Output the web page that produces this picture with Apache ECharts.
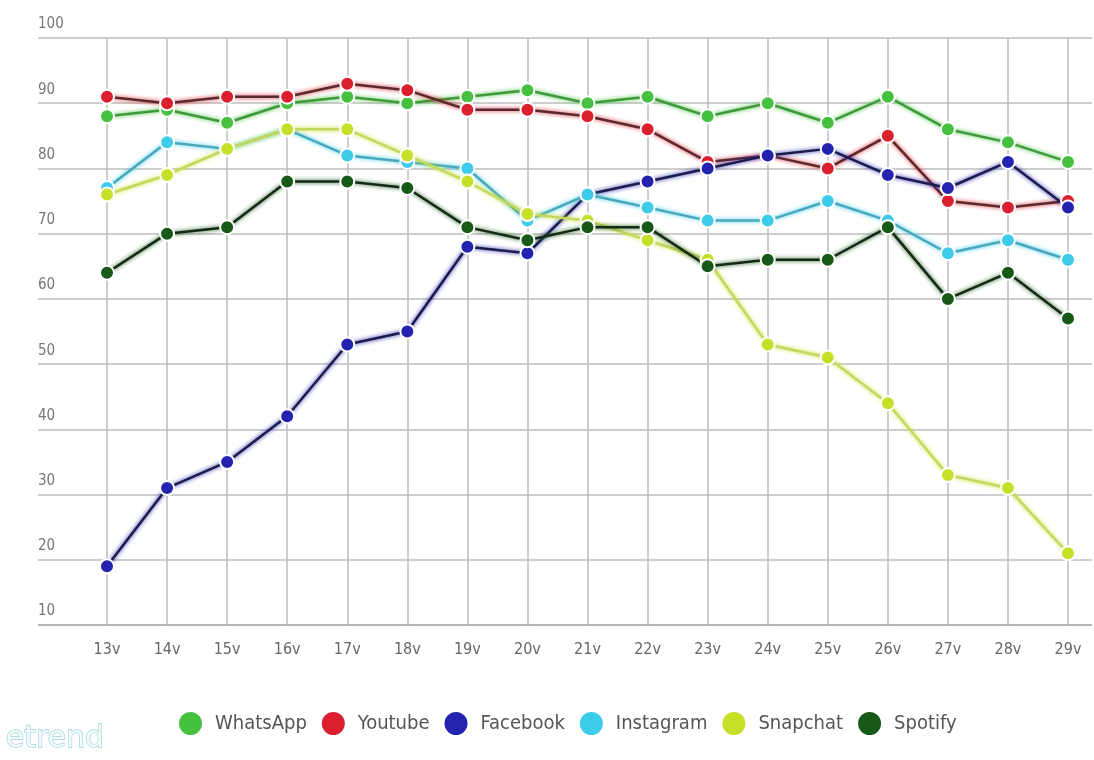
<!DOCTYPE html>
<html><head><meta charset="utf-8">
<script src="https://cdn.jsdelivr.net/npm/echarts@6/dist/echarts.min.js"></script>
<style>html,body{margin:0;padding:0;background:#fff}#c{width:1094px;height:760px}</style>
</head><body><div id="c"></div>
<script>
const categories = ['13v','14v','15v','16v','17v','18v','19v','20v','21v','22v','23v','24v','25v','26v','27v','28v','29v'];
const whatsapp  = [88,89,87,90,91,90,91,92,90,91,88,90,87,91,86,84,81];
const youtube   = [91,90,91,91,93,92,89,89,88,86,81,82,80,85,75,74,75];
const facebook  = [19,31,35,42,53,55,68,67,76,78,80,82,83,79,77,81,74];
const instagram = [77,84,83,86,82,81,80,72,76,74,72,72,75,72,67,69,66];
const snapchat  = [76,79,83,86,86,82,78,73,72,69,66,53,51,44,33,31,21];
const spotify   = [64,70,71,78,78,77,71,69,71,71,65,66,66,71,60,64,57];
const yTicks = [10,20,30,40,50,60,70,80,90,100];

const seriesDefs = [
  {name:'WhatsApp', data:whatsapp, color:'#45c03f', line:'#3f9a3c'},
  {name:'Youtube', data:youtube, color:'#db1f2f', line:'#5a2a2c'},
  {name:'Facebook', data:facebook, color:'#2323b0', line:'#1c1c4c'},
  {name:'Instagram', data:instagram, color:'#3ccbe8', line:'#4aa8bd'},
  {name:'Snapchat', data:snapchat, color:'#c6e02a', line:'#c4d860'},
  {name:'Spotify', data:spotify, color:'#175a17', line:'#152a15'}
];
const font = "'Liberation Sans Narrow','DejaVu Sans Condensed','Roboto',sans-serif";
const chart = echarts.init(document.getElementById('c'));
chart.setOption({
  animation:false,
  backgroundColor:'#fff',
  grid:[
    {left:38, right:2, top:38, bottom:135},
    {left:107, right:26, top:38, bottom:135}
  ],
  xAxis:[
    {gridIndex:0, type:'value', min:0, max:1, show:false},
    {gridIndex:1, type:'category', data:categories, boundaryGap:false,
     axisLine:{show:false}, axisTick:{show:false},
     axisLabel:{color:'#666', fontSize:16, fontFamily:font, margin:17},
     splitLine:{show:true, lineStyle:{color:'#bcbcbc', width:1.5}}}
  ],
  yAxis:[
    {gridIndex:0, type:'value', min:10, max:100, interval:10,
     axisLine:{show:false}, axisTick:{show:false},
     axisLabel:{inside:true, margin:0, color:'#777', fontSize:15, fontFamily:font,
       verticalAlign:'bottom', padding:[0,0,6,0], showMinLabel:true},
     splitLine:{show:true, lineStyle:{color:'#bcbcbc', width:1.5}}},
    {gridIndex:1, type:'value', min:10, max:100, interval:10, show:false, splitLine:{show:false}}
  ],
  legend:{
    left:172, top:705, icon:'circle', itemWidth:25, itemHeight:25, itemGap:13,
    textStyle:{color:'#555', fontSize:20, fontFamily:font, padding:[0,0,0,7]},
    data:seriesDefs.map(s=>s.name)
  },
  graphic:[
    {type:'line', shape:{x1:38,y1:625,x2:1092,y2:625}, style:{stroke:'#a0a0a0', lineWidth:2}},
    {type:'text', left:5, top:724, style:{text:'etrend', fill:'#f4fbfc', stroke:'#9fd3dc', lineWidth:1.4, fontSize:30, fontFamily:"'DejaVu Sans'"}}
  ],
  series:seriesDefs.map(s=>({
    name:s.name, type:'line', xAxisIndex:1, yAxisIndex:1, data:s.data,
    symbol:'circle', symbolSize:14, color:s.color,
    itemStyle:{color:s.color, borderColor:'#fff', borderWidth:2},
    lineStyle:{color:s.line, width:2.5, shadowColor:s.color, shadowBlur:4}
  }))
});
</script></body></html>
